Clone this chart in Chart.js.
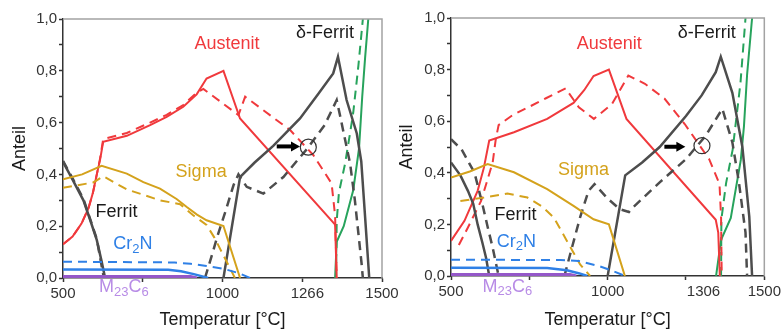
<!DOCTYPE html>
<html>
<head>
<meta charset="utf-8">
<script src="https://cdn.jsdelivr.net/npm/chart.js@4.4.1/dist/chart.umd.min.js"></script>
<style>
  html, body { margin: 0; padding: 0; background: #fff; }
  #wrap { position: relative; width: 784px; height: 329px; overflow: hidden; background: #fff; }
  canvas { position: absolute; top: 0; }
  #left { left: 0; }
  #right { left: 392px; }
</style>
</head>
<body>
<div id="wrap">
  <canvas id="left" width="410" height="329"></canvas>
  <canvas id="right" width="392" height="329"></canvas>
</div>
<script>
// phase fractions vs temperature, [T in °C, fraction]
// solid = first calculation, dashed = second calculation

// ---- left panel ----
const L_AUSTENIT_SOLID = [[500,0.13],[530,0.16],[558,0.21],[580,0.27],[594,0.33],[606,0.40],[616,0.455],[626,0.526],[700,0.549],[773,0.59],[825,0.622],[877,0.661],[919,0.709],[950,0.77],[1003,0.80],[1055,0.616],[1353,0.206],[1358,0]];
const L_AUSTENIT_DASHED = [[500,0.13],[530,0.16],[558,0.21],[580,0.27],[594,0.33],[606,0.40],[616,0.46],[626,0.536],[700,0.56],[773,0.60],[825,0.63],[877,0.668],[919,0.715],[940,0.73],[1050,0.629],[1071,0.70],[1212,0.571],[1285,0.474],[1342,0.365],[1353,0.24],[1358,0]];
const L_SIGMA_SOLID = [[500,0.381],[560,0.40],[621,0.433],[700,0.403],[752,0.37],[804,0.345],[856,0.305],[888,0.274],[920,0.245],[950,0.223],[1003,0.201],[1055,0]];
const L_SIGMA_DASHED = [[500,0.348],[595,0.369],[626,0.393],[700,0.342],[760,0.318],[804,0.30],[867,0.285],[908,0.242],[950,0.205],[975,0.155],[1039,0]];
const L_FERRIT_SOLID = [[500,0.448],[530,0.38],[564,0.30],[585,0.225],[606,0.146],[620,0.07],[632,0]];
const L_FERRIT_DASHED = [[500,0.452],[530,0.385],[564,0.305],[606,0.15],[628,0]];
const L_DELTA_SOLID = [[1003,0],[1055,0.39],[1100,0.445],[1159,0.51],[1243,0.616],[1300,0.71],[1347,0.79],[1362,0.854],[1389,0.687],[1421,0.558],[1435,0.45],[1447,0.236],[1460,0]];
const L_DELTA_DASHED = [[945,0],[960,0.06],[985,0.165],[1010,0.26],[1035,0.36],[1050,0.40],[1076,0.352],[1128,0.326],[1191,0.39],[1266,0.50],[1320,0.59],[1358,0.687],[1368,0.63],[1389,0.506],[1400,0.442],[1415,0.30],[1436,0.056],[1440,0]];
const L_CR2N_SOLID = [[500,0.033],[830,0.032],[870,0.026],[910,0.015],[955,0]];
const L_CR2N_DASHED = [[500,0.063],[850,0.06],[900,0.055],[950,0.046],[1003,0.036],[1055,0.017],[1086,0]];
const L_M23C6 = [[500,0.006],[900,0.006],[920,0]];
const L_MELT_SOLID = [[1353,0],[1358,0.14],[1380,0.2],[1410,0.34],[1428,0.5],[1438,0.7],[1447,0.85],[1457,1.0]];
const L_MELT_DASHED = [[1356,0],[1358,0.22],[1365,0.33],[1384,0.44],[1400,0.56],[1410,0.64],[1426,0.82],[1440,1.0]];

// ---- right panel ----
const R_AUSTENIT_SOLID = [[500,0.136],[543,0.214],[585,0.33],[605,0.42],[622,0.525],[701,0.557],[807,0.609],[891,0.671],[925,0.72],[955,0.775],[1004,0.80],[1060,0.609],[1345,0.218],[1353,0.168],[1358,0]];
const R_AUSTENIT_DASHED = [[525,0.12],[554,0.188],[596,0.291],[633,0.44],[643,0.531],[652,0.585],[697,0.624],[750,0.656],[803,0.689],[866,0.727],[908,0.654],[956,0.609],[1014,0.667],[1066,0.777],[1119,0.745],[1182,0.687],[1246,0.589],[1324,0.453],[1357,0.356],[1362,0.226],[1364,0]];
const R_SIGMA_SOLID = [[500,0.382],[560,0.405],[617,0.434],[701,0.402],[807,0.337],[891,0.272],[955,0.22],[1004,0.20],[1055,0]];
const R_SIGMA_DASHED = [[530,0.291],[607,0.304],[680,0.32],[744,0.304],[790,0.27],[828,0.227],[870,0.136],[912,0.045],[944,0]];
const R_FERRIT_SOLID = [[500,0.44],[530,0.39],[554,0.33],[571,0.28],[585,0.2],[600,0.13],[612,0.07],[622,0]];
const R_FERRIT_DASHED = [[500,0.53],[534,0.49],[575,0.40],[600,0.28],[617,0.19],[633,0.11],[652,0]];
const R_DELTA_SOLID = [[1000,0],[1056,0.39],[1110,0.44],[1166,0.50],[1250,0.62],[1300,0.70],[1345,0.79],[1361,0.85],[1398,0.71],[1430,0.50],[1452,0.23],[1461,0]];
const R_DELTA_DASHED = [[862,0],[886,0.11],[912,0.227],[939,0.33],[958,0.356],[1000,0.30],[1039,0.259],[1068,0.248],[1081,0.266],[1166,0.363],[1250,0.453],[1313,0.544],[1366,0.648],[1398,0.518],[1419,0.363],[1440,0.168],[1445,0]];
const R_CR2N_SOLID = [[500,0.032],[807,0.031],[870,0.022],[910,0.01],[935,0]];
const R_CR2N_DASHED = [[500,0.063],[850,0.062],[908,0.058],[971,0.039],[1020,0.018],[1056,0]];
const R_M23C6 = [[500,0.006],[880,0.006],[900,0]];
const R_MELT_SOLID = [[1346,0],[1362,0.14],[1393,0.225],[1425,0.45],[1435,0.58],[1445,0.78],[1461,1.0]];
const R_MELT_DASHED = [[1362,0],[1363,0.22],[1378,0.36],[1399,0.49],[1424,0.75],[1440,1.0]];

// axis ticks
const Y_TICKS = [0, 0.1, 0.2, 0.3, 0.4, 0.5, 0.6, 0.7, 0.8, 0.9, 1.0];
const Y_TICK_LABELS = ['0,0', '', '0,2', '', '0,4', '', '0,6', '', '0,8', '', '1,0'];
const X_TICK_MARKS = [500, 750, 1000, 1250, 1500];
const L_X_TICKS = [500, 750, 1000, 1250, 1266, 1500];
const L_X_TICK_LABELS = ['500', '', '1000', '', '1266', '1500'];
const R_X_TICKS = [500, 750, 1000, 1250, 1306, 1500];
const R_X_TICK_LABELS = ['500', '', '1000', '', '1306', '1500'];

const FONT = "Arial, 'Liberation Sans', sans-serif";
const RED = '#f0393c';
const GOLD = '#d4a21c';
const GRAY = '#4d4d4d';
const BLUE = '#2f80e6';
const GREEN = '#27a35c';
const PURPLE = '#9457c8';

function line(data, color, dashed, width) {
  return {
    data: data,
    borderColor: color,
    borderWidth: width || 2,
    borderDash: dashed ? [9, 6] : [],
    pointRadius: 0,
    fill: false,
    tension: 0
  };
}

// text with "_12" style subscripts, centred on (cx, cy)
function drawRich(ctx, text, cx, cy, color) {
  const parts = text.split(/_(\d+)/);
  const big = '18px ' + FONT, small = '13px ' + FONT;
  let w = 0;
  parts.forEach((p, i) => { ctx.font = i % 2 ? small : big; w += ctx.measureText(p).width; });
  let xx = cx - w / 2;
  ctx.fillStyle = color;
  ctx.textAlign = 'left';
  ctx.textBaseline = 'middle';
  parts.forEach((p, i) => {
    ctx.font = i % 2 ? small : big;
    ctx.fillText(p, xx, i % 2 ? cy + 5 : cy);
    xx += ctx.measureText(p).width;
  });
}

const annotate = {
  id: 'annotate',
  afterDatasetsDraw(chart, args, opts) {
    const { ctx, chartArea: a, scales: { x, y } } = chart;
    ctx.save();
    // frame top/right
    ctx.strokeStyle = '#a3a3a3';
    ctx.lineWidth = 1.5;
    ctx.beginPath();
    ctx.moveTo(a.left, a.top);
    ctx.lineTo(a.right, a.top);
    ctx.lineTo(a.right, a.bottom);
    ctx.stroke();

    opts.labels.forEach(l => drawRich(ctx, l.text, x.getPixelForValue(l.at[0]), y.getPixelForValue(l.at[1]), l.color));

    // arrow
    const x0 = x.getPixelForValue(opts.arrow[0][0]), y0 = y.getPixelForValue(opts.arrow[0][1]);
    const x1 = x.getPixelForValue(opts.arrow[1][0]);
    ctx.strokeStyle = '#000';
    ctx.fillStyle = '#000';
    ctx.lineWidth = 4;
    ctx.beginPath();
    ctx.moveTo(x0, y0);
    ctx.lineTo(x1 - 7, y0);
    ctx.stroke();
    ctx.beginPath();
    ctx.moveTo(x1, y0);
    ctx.lineTo(x1 - 9, y0 - 5);
    ctx.lineTo(x1 - 9, y0 + 5);
    ctx.closePath();
    ctx.fill();

    // circle
    ctx.strokeStyle = '#333';
    ctx.lineWidth = 1.2;
    ctx.beginPath();
    ctx.arc(x.getPixelForValue(opts.circle[0]), y.getPixelForValue(opts.circle[1]), 8, 0, Math.PI * 2);
    ctx.stroke();
    ctx.restore();
  }
};

function makePanel(id, sets, cfg) {
  return new Chart(document.getElementById(id), {
    type: 'line',
    data: {
      datasets: [
        line(sets.m23c6, PURPLE, false, 3),
        line(sets.cr2nDashed, BLUE, true),
        line(sets.cr2nSolid, BLUE, false, 2.5),
        line(sets.sigmaDashed, GOLD, true),
        line(sets.sigmaSolid, GOLD, false),
        line(sets.ferritDashed, GRAY, true, 2.5),
        line(sets.ferritSolid, GRAY, false, 2.5),
        line(sets.deltaDashed, GRAY, true, 2.5),
        line(sets.deltaSolid, GRAY, false, 2.5),
        line(sets.austenitDashed, RED, true),
        line(sets.austenitSolid, RED, false),
        line(sets.meltDashed, GREEN, true),
        line(sets.meltSolid, GREEN, false)
      ]
    },
    options: {
      responsive: false,
      animation: false,
      devicePixelRatio: 1,
      layout: { autoPadding: false, padding: cfg.padding },
      plugins: {
        legend: { display: false },
        tooltip: { enabled: false },
        annotate: cfg.annotate
      },
      scales: {
        x: {
          type: 'linear',
          min: 500,
          max: 1500,
          afterBuildTicks: s => { s.ticks = cfg.xTicks.map(v => ({ value: v })); },
          afterFit: s => { s.height = cfg.xHeight; },
          ticks: {
            autoSkip: false,
            maxRotation: 0,
            padding: 3,
            color: '#333',
            font: { size: 15, family: FONT },
            callback: (v, i) => cfg.xLabels[i]
          },
          grid: {
            drawOnChartArea: false,
            tickLength: 4,
            tickWidth: 1.5,
            tickColor: c => X_TICK_MARKS.includes(c.tick && c.tick.value) ? '#333' : 'rgba(0,0,0,0)'
          },
          border: { color: '#333', width: 1.5 },
          title: {
            display: true,
            text: 'Temperatur [°C]',
            color: '#1a1a1a',
            font: { size: 18, family: FONT, lineHeight: 1 },
            padding: 0
          }
        },
        y: {
          min: 0,
          max: 1,
          afterBuildTicks: s => { s.ticks = Y_TICKS.map(v => ({ value: v })); },
          afterFit: s => { s.width = cfg.yWidth; },
          ticks: {
            autoSkip: false,
            padding: 2,
            color: '#333',
            font: { size: 15, family: FONT },
            callback: (v, i) => Y_TICK_LABELS[i]
          },
          grid: { drawOnChartArea: false, tickLength: 4, tickWidth: 1.5, tickColor: '#333' },
          border: { color: '#333', width: 1.5 },
          title: {
            display: true,
            text: 'Anteil',
            color: '#1a1a1a',
            font: { size: 18, family: FONT, lineHeight: 1.2 },
            padding: { top: cfg.yTitlePad, bottom: 0 }
          }
        }
      }
    },
    plugins: [annotate]
  });
}

makePanel('left', {
  austenitSolid: L_AUSTENIT_SOLID, austenitDashed: L_AUSTENIT_DASHED,
  sigmaSolid: L_SIGMA_SOLID, sigmaDashed: L_SIGMA_DASHED,
  ferritSolid: L_FERRIT_SOLID, ferritDashed: L_FERRIT_DASHED,
  deltaSolid: L_DELTA_SOLID, deltaDashed: L_DELTA_DASHED,
  cr2nSolid: L_CR2N_SOLID, cr2nDashed: L_CR2N_DASHED,
  m23c6: L_M23C6, meltSolid: L_MELT_SOLID, meltDashed: L_MELT_DASHED
}, {
  padding: { left: 0, top: 19, right: 28, bottom: 0 },
  yWidth: 63, xHeight: 51, yTitlePad: 9,
  xTicks: L_X_TICKS, xLabels: L_X_TICK_LABELS,
  annotate: {
    labels: [
      { text: 'Austenit', at: [1014, 0.903], color: RED },
      { text: 'δ-Ferrit', at: [1321, 0.946], color: '#1a1a1a' },
      { text: 'Sigma', at: [933, 0.41], color: GOLD },
      { text: 'Ferrit', at: [668, 0.255], color: '#1a1a1a' },
      { text: 'Cr_2N', at: [719, 0.13], color: BLUE },
      { text: 'M_23C_6', at: [691, -0.036], color: '#b88ce6' }
    ],
    arrow: [[1170, 0.508], [1243, 0.508]],
    circle: [1269, 0.505]
  }
});

makePanel('right', {
  austenitSolid: R_AUSTENIT_SOLID, austenitDashed: R_AUSTENIT_DASHED,
  sigmaSolid: R_SIGMA_SOLID, sigmaDashed: R_SIGMA_DASHED,
  ferritSolid: R_FERRIT_SOLID, ferritDashed: R_FERRIT_DASHED,
  deltaSolid: R_DELTA_SOLID, deltaDashed: R_DELTA_DASHED,
  cr2nSolid: R_CR2N_SOLID, cr2nDashed: R_CR2N_DASHED,
  m23c6: R_M23C6, meltSolid: R_MELT_SOLID, meltDashed: R_MELT_DASHED
}, {
  padding: { left: 0, top: 18, right: 17, bottom: 0 },
  yWidth: 59, xHeight: 53, yTitlePad: 4,
  xTicks: R_X_TICKS, xLabels: R_X_TICK_LABELS,
  annotate: {
    labels: [
      { text: 'Austenit', at: [1005, 0.898], color: RED },
      { text: 'δ-Ferrit', at: [1316, 0.941], color: '#1a1a1a' },
      { text: 'Sigma', at: [923, 0.411], color: GOLD },
      { text: 'Ferrit', at: [706, 0.236], color: '#1a1a1a' },
      { text: 'Cr_2N', at: [709, 0.133], color: BLUE },
      { text: 'M_23C_6', at: [680, -0.041], color: '#b88ce6' }
    ],
    arrow: [[1181, 0.501], [1248, 0.501]],
    circle: [1301, 0.505]
  }
});
</script>
</body>
</html>
